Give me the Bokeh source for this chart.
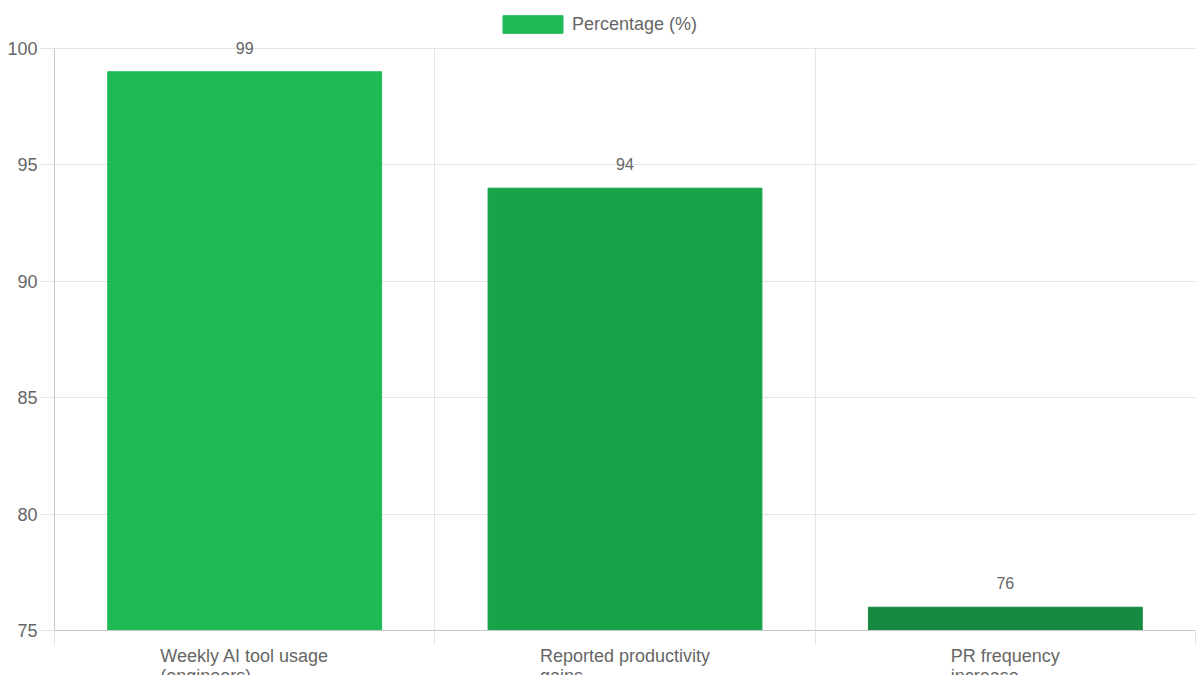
from bokeh.plotting import figure
from bokeh.layouts import column
from bokeh.models import (Range1d, FixedTicker, ColumnDataSource, LabelSet,
                          Legend, LegendItem)
from bokeh.core.properties import value
from bokeh.embed import file_html
from bokeh.resources import INLINE

# ---- data ----
categories = ["Weekly AI tool usage (engineers)", "Reported productivity gains", "PR frequency increase"]
category_labels = ["Weekly AI tool usage\n(engineers)", "Reported productivity\ngains", "PR frequency\nincrease"]
values = [99, 94, 76]
bar_colors = ["#1fba55", "#18a34a", "#158a40"]
series_name = "Percentage (%)"
y_ticks = [75, 80, 85, 90, 95, 100]

FONT = "Liberation Sans"
TXT = "#666666"
GRID = "#e5e5e5"
AXIS = "#c8c8c8"

# ---- layout (pixels) ----
W = 1200
LEFT, RIGHT = 54, 5
TOP_PAD = 48          # space above the 100 line (legend / value labels)
PLOT_H = 582          # height of the 75..100 area
TICK = 15
LABEL_H = 30
LEGEND_X = 441        # from frame left
LEGEND_BOTTOM = 35    # legend bottom edge, from figure top

n = len(categories)
xs = [i + 0.5 for i in range(n)]
source = ColumnDataSource(dict(
    x=xs, top=values, color=bar_colors,
    label=[str(v) for v in values],
    cat=category_labels,
    base=[y_ticks[0]] * n,
))

y_lo, y_hi = y_ticks[0], y_ticks[-1]
y_top = y_hi + (y_hi - y_lo) * TOP_PAD / PLOT_H

p = figure(width=W, height=TOP_PAD + PLOT_H + TICK,
           x_range=Range1d(0, n), y_range=Range1d(y_lo, y_top),
           output_backend="svg", toolbar_location=None,
           min_border_left=LEFT, min_border_right=RIGHT,
           min_border_top=0, min_border_bottom=TICK)
p.outline_line_color = None

bars = p.vbar(x="x", top="top", bottom="base", width=0.72, source=source,
              fill_color="color", line_color="color", line_width=1)

# y axis
p.yaxis.ticker = FixedTicker(ticks=y_ticks)
p.yaxis.bounds = (y_lo, y_hi)
p.yaxis.major_tick_out = TICK
p.yaxis.major_tick_in = 0
p.yaxis.major_tick_line_color = GRID
p.yaxis.minor_tick_line_color = None
p.yaxis.axis_line_color = AXIS
p.yaxis.major_label_text_font = FONT
p.yaxis.major_label_text_font_size = "18px"
p.yaxis.major_label_text_color = TXT
p.yaxis.major_label_standoff = 2
p.ygrid.grid_line_color = GRID

# x axis: category boundaries as minor ticks
p.xaxis.ticker = FixedTicker(ticks=[], minor_ticks=list(range(n + 1)))
p.xaxis.minor_tick_out = TICK
p.xaxis.minor_tick_in = 0
p.xaxis.minor_tick_line_color = GRID
p.xaxis.major_tick_line_color = None
p.xaxis.axis_line_color = AXIS
p.xaxis.major_label_text_font_size = "0px"
p.xaxis.major_label_standoff = 0
p.xgrid.grid_line_color = None
p.xgrid.minor_grid_line_color = GRID
p.xgrid.cross_bounds = (y_lo, y_hi)

# value labels
p.add_layout(LabelSet(x="x", y="top", text="label", source=source,
                      text_align="center", text_baseline="alphabetic",
                      y_offset=18, text_font=value(FONT),
                      text_font_size=value("16px"), text_color=TXT))

legend = Legend(items=[LegendItem(label=series_name, renderers=[bars], index=0)],
                orientation="horizontal",
                location=(LEGEND_X, TOP_PAD + PLOT_H - LEGEND_BOTTOM),
                glyph_width=75, glyph_height=22, label_height=22,
                label_standoff=2, label_text_font=FONT,
                label_text_font_size="18px", label_text_color=TXT,
                border_line_color=None, background_fill_alpha=0,
                padding=0, margin=0, spacing=0)
p.add_layout(legend, "center")

# category labels strip
q = figure(width=W, height=LABEL_H, x_range=p.x_range, y_range=Range1d(0, 1),
           output_backend="svg", toolbar_location=None,
           x_axis_location=None, y_axis_location=None,
           min_border_left=LEFT, min_border_right=RIGHT,
           min_border_top=0, min_border_bottom=0)
q.outline_line_color = None
q.grid.visible = False
q.text(x="x", y=1, text="cat", source=source, anchor="top_center",
       text_align="left", text_baseline="top", text_line_height=1.0,
       text_font=value(FONT), text_font_size=value("18px"), text_color=TXT)

layout = column(p, q, spacing=0)
open("out.html", "w").write(file_html(layout, INLINE))
